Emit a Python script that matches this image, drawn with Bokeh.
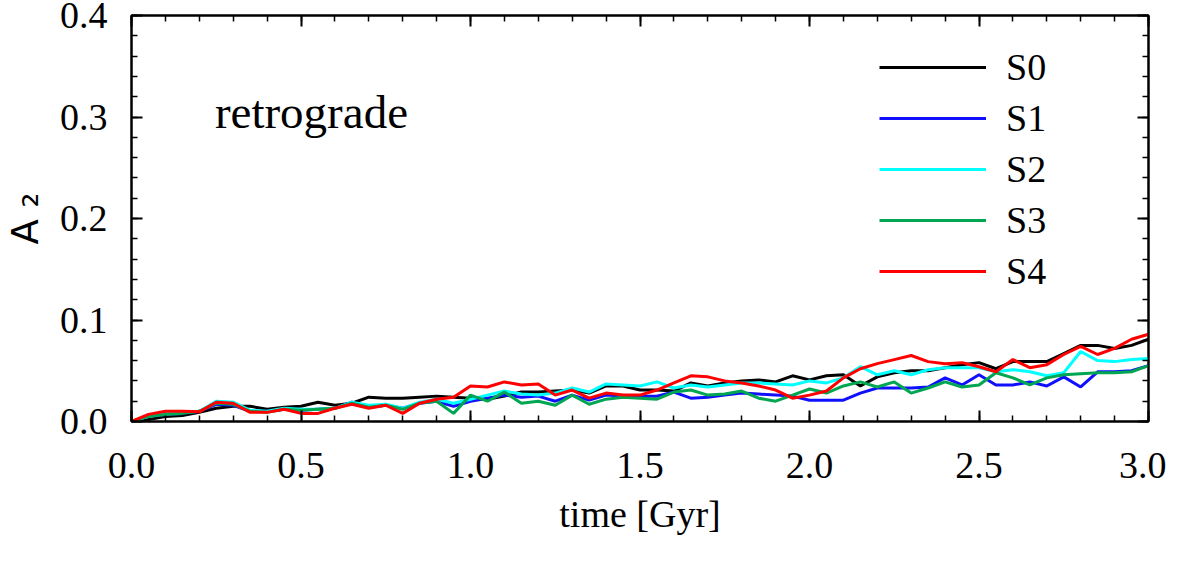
from bokeh.plotting import figure
from bokeh.models import (Legend, LegendItem, LinearAxis, SingleIntervalTicker,
                          PrintfTickFormatter, CustomJSTickFormatter, Label, Range1d)
from bokeh.embed import file_html
from bokeh.resources import INLINE

time = [round(0.05 * i, 2) for i in range(61)]

s0 = [0, 0.002, 0.005, 0.006, 0.009, 0.013, 0.015, 0.015, 0.012, 0.014, 0.015, 0.019, 0.016,
      0.018, 0.024, 0.023, 0.023, 0.024, 0.025, 0.024, 0.023, 0.022, 0.025, 0.029, 0.029,
      0.030, 0.031, 0.028, 0.035, 0.035, 0.031, 0.031, 0.030, 0.038, 0.035, 0.038, 0.040,
      0.041, 0.039, 0.045, 0.041, 0.045, 0.046, 0.035, 0.044, 0.048, 0.050, 0.050, 0.053,
      0.056, 0.058, 0.052, 0.059, 0.059, 0.059, 0.067, 0.075, 0.075, 0.072, 0.075, 0.081]
s1 = [0, 0.005, 0.007, 0.008, 0.010, 0.017, 0.016, 0.010, 0.010, 0.012, 0.011, 0.012, 0.013,
      0.019, 0.014, 0.016, 0.013, 0.018, 0.020, 0.015, 0.020, 0.023, 0.026, 0.024, 0.025,
      0.020, 0.026, 0.021, 0.026, 0.025, 0.025, 0.025, 0.029, 0.023, 0.024, 0.026, 0.028,
      0.027, 0.026, 0.025, 0.021, 0.021, 0.021, 0.028, 0.033, 0.033, 0.033, 0.034, 0.043,
      0.036, 0.046, 0.036, 0.036, 0.039, 0.035, 0.044, 0.034, 0.049, 0.049, 0.050, 0.055]
s2 = [0, 0.005, 0.008, 0.009, 0.010, 0.020, 0.019, 0.011, 0.010, 0.013, 0.012, 0.012, 0.013,
      0.019, 0.016, 0.017, 0.013, 0.019, 0.022, 0.018, 0.022, 0.026, 0.030, 0.027, 0.026,
      0.028, 0.033, 0.029, 0.037, 0.036, 0.035, 0.039, 0.033, 0.036, 0.034, 0.036, 0.038,
      0.038, 0.037, 0.036, 0.040, 0.038, 0.043, 0.054, 0.046, 0.050, 0.046, 0.051, 0.053,
      0.053, 0.053, 0.049, 0.051, 0.049, 0.045, 0.048, 0.069, 0.060, 0.059, 0.061, 0.062]
s3 = [0, 0.005, 0.007, 0.008, 0.010, 0.018, 0.017, 0.010, 0.009, 0.012, 0.011, 0.012, 0.013,
      0.018, 0.014, 0.016, 0.012, 0.018, 0.020, 0.008, 0.026, 0.020, 0.029, 0.018, 0.020,
      0.016, 0.026, 0.017, 0.022, 0.024, 0.023, 0.022, 0.029, 0.031, 0.026, 0.027, 0.030,
      0.023, 0.020, 0.026, 0.032, 0.028, 0.035, 0.039, 0.034, 0.039, 0.028, 0.033, 0.039,
      0.034, 0.036, 0.048, 0.043, 0.036, 0.043, 0.046, 0.047, 0.048, 0.048, 0.049, 0.055]
s4 = [0, 0.007, 0.010, 0.010, 0.0095, 0.019, 0.018, 0.009, 0.009, 0.012, 0.008, 0.008, 0.013,
      0.017, 0.013, 0.016, 0.008, 0.018, 0.022, 0.024, 0.035, 0.034, 0.039, 0.036, 0.037,
      0.026, 0.031, 0.023, 0.028, 0.026, 0.026, 0.031, 0.038, 0.045, 0.044, 0.040, 0.038,
      0.035, 0.031, 0.023, 0.026, 0.030, 0.043, 0.052, 0.057, 0.061, 0.065, 0.059, 0.057,
      0.058, 0.054, 0.049, 0.061, 0.053, 0.056, 0.066, 0.074, 0.066, 0.072, 0.081, 0.086]

series_names = ["S0", "S1", "S2", "S3", "S4"]
series_values = [s0, s1, s2, s3, s4]
series_colors = ["#000000", "#1010ff", "#00ffff", "#00a651", "#ff0000"]

x_ticks_interval = 0.5
y_ticks_interval = 0.1

SERIF = "Liberation Serif"

p = figure(width=1166, height=560, output_backend="svg", toolbar_location=None,
           x_range=Range1d(0, 3), y_range=Range1d(0, 0.4),
           min_border_left=120, min_border_right=18, min_border_top=15, min_border_bottom=139)
p.grid.visible = False
p.outline_line_color = "black"
p.outline_line_width = 2
p.background_fill_color = "white"
p.border_fill_color = "white"

renderers = []
for name, vals, col in zip(series_names, series_values, series_colors):
    r = p.line(time, vals, line_color=col, line_width=3)
    renderers.append((name, r))


def style_axis(ax, labels=True):
    ax.axis_line_color = "black"
    ax.axis_line_width = 2
    ax.major_tick_in = 11
    ax.major_tick_out = 0
    ax.minor_tick_in = 6
    ax.minor_tick_out = 0
    ax.major_tick_line_width = 2
    ax.minor_tick_line_width = 1.5
    ax.major_tick_line_color = "black"
    ax.minor_tick_line_color = "black"
    if labels:
        ax.major_label_text_font = SERIF
        ax.major_label_text_font_size = "38px"
        ax.major_label_text_color = "black"
    else:
        ax.formatter = CustomJSTickFormatter(code="return ''")
        ax.major_label_text_font_size = "0px"
        ax.major_label_standoff = 0


xt = SingleIntervalTicker(interval=x_ticks_interval, num_minor_ticks=5)
yt = SingleIntervalTicker(interval=y_ticks_interval, num_minor_ticks=5)

xa = p.xaxis[0]
xa.ticker = xt
xa.formatter = PrintfTickFormatter(format="%.1f")
style_axis(xa)
xa.major_label_standoff = 31
xa.axis_label = "time [Gyr]"
xa.axis_label_text_font = SERIF
xa.axis_label_text_font_size = "38px"
xa.axis_label_text_font_style = "normal"
xa.axis_label_text_color = "black"
xa.axis_label_standoff = 12

ya = p.yaxis[0]
ya.ticker = yt
ya.formatter = PrintfTickFormatter(format="%.1f")
style_axis(ya)
ya.major_label_standoff = 24
ya.axis_label = "A \u2082"
ya.axis_label_text_font = "DejaVu Sans"
ya.axis_label_text_font_size = "37px"
ya.axis_label_text_font_style = "normal"
ya.axis_label_text_color = "black"
ya.axis_label_standoff = 10

top = LinearAxis(ticker=SingleIntervalTicker(interval=x_ticks_interval, num_minor_ticks=5))
style_axis(top, labels=False)
p.add_layout(top, "above")
right = LinearAxis(ticker=SingleIntervalTicker(interval=y_ticks_interval, num_minor_ticks=5))
style_axis(right, labels=False)
p.add_layout(right, "right")

p.add_layout(Label(x=0.246, y=0.305, text="retrograde", text_font=SERIF,
                   text_font_size="47px", text_baseline="alphabetic", text_color="black"))

legend = Legend(items=[LegendItem(label=n, renderers=[r]) for n, r in renderers],
                location=(748, 128), padding=0, margin=0, border_line_alpha=0,
                background_fill_alpha=0, glyph_width=107, glyph_height=40,
                label_height=40, spacing=7, label_standoff=20,
                label_text_font=SERIF, label_text_font_size="38px",
                label_text_color="black", label_text_baseline="middle")
p.add_layout(legend)

open("out.html", "w").write(file_html(p, INLINE))
